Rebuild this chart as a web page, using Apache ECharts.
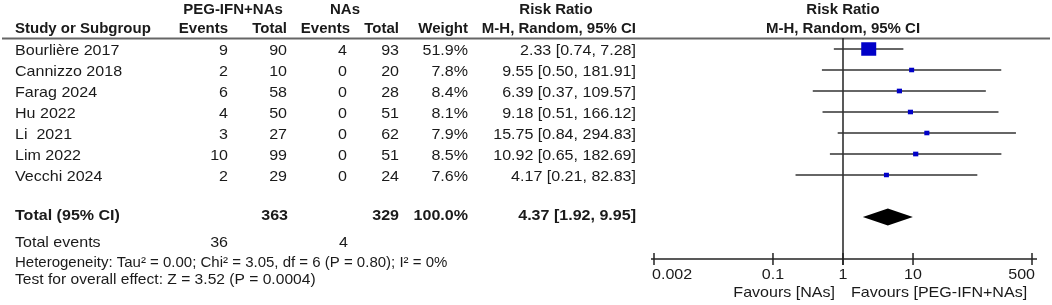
<!DOCTYPE html>
<html>
<head>
<meta charset="utf-8">
<script src="https://cdn.jsdelivr.net/npm/echarts@6/dist/echarts.min.js"></script>
<style>
  html, body { margin: 0; padding: 0; background: #fff; }
  #main { width: 1052px; height: 305px; }
</style>
</head>
<body>
<div id="main"></div>
<script>
// study data
const studies = ['Bourlière 2017', 'Cannizzo 2018', 'Farag 2024', 'Hu 2022', 'Li  2021', 'Lim 2022', 'Vecchi 2024'];
const expEvents = [9, 2, 6, 4, 3, 10, 2];
const expTotal = [90, 10, 58, 50, 27, 99, 29];
const ctrlEvents = [4, 0, 0, 0, 0, 0, 0];
const ctrlTotal = [93, 20, 28, 51, 62, 51, 24];
const weights = [51.9, 7.8, 8.4, 8.1, 7.9, 8.5, 7.6];
const rr = [2.33, 9.55, 6.39, 9.18, 15.75, 10.92, 4.17];
const lower = [0.74, 0.50, 0.37, 0.51, 0.84, 0.65, 0.21];
const upper = [7.28, 181.91, 109.57, 166.12, 294.83, 182.69, 82.83];

// pooled result
const pooled = [4.37, 1.92, 9.95]; // rr, lower, upper
const totalN = [363, 329];
const totalEvents = [36, 4];
const totalWeight = 100.0;

// axis ticks
const tickValues = [0.002, 0.1, 1, 10, 500];
const tickLabels = ['0.002', '0.1', '1', '10', '500'];

const FONT = '"Liberation Sans", Arial, Helvetica, sans-serif';
const INK = '#1a1a1a';
const TOTAL_ROW = 8;
const AXIS_ROW = 10;

// right edges of the numeric columns
const COL = { study: 15, evE: 228, totE: 287, evC: 347, totC: 399, w: 468, rr: 636 };

// text helper, sx stretches the text a little around its anchor
function txt(str, x, y, align, bold, size, sx) {
  return {
    type: 'text',
    x: x, y: y,
    scaleX: sx || 1,
    style: {
      text: String(str), x: 0, y: 0,
      align: align, verticalAlign: 'middle',
      font: (bold ? 'bold ' : '') + (size || 15) + 'px ' + FONT,
      fill: INK
    }
  };
}
const body = (str, x, y, align, bold) => txt(str, x, y, align, bold, 15, 1.07);
const head = (str, x, y, align) => txt(str, x, y, align, true, 15, 1);

const fmtCI = (a, b, c) => a.toFixed(2) + ' [' + b.toFixed(2) + ', ' + c.toFixed(2) + ']';

const chart = echarts.init(document.getElementById('main'), null, { renderer: 'canvas' });

const option = {
  animation: false,
  grid: { left: 654, right: 20, top: 7, bottom: 46 },
  xAxis: { type: 'log', logBase: 10, min: 0.002, max: 500, show: false },
  yAxis: { type: 'value', min: -2, max: AXIS_ROW, inverse: true, show: false },
  graphic: [
    { type: 'line', shape: { x1: 2, y1: 38.5, x2: 1050, y2: 38.5 }, style: { stroke: '#666', lineWidth: 2 } },
    head('PEG-IFN+NAs', 233, 10, 'center'),
    head('NAs', 345, 10, 'center'),
    head('Risk Ratio', 556, 10, 'center'),
    head('Risk Ratio', 843, 10, 'center'),
    head('Study or Subgroup', COL.study, 29, 'left'),
    head('Events', COL.evE, 29, 'right'),
    head('Total', COL.totE, 29, 'right'),
    head('Events', 350, 29, 'right'),
    head('Total', COL.totC, 29, 'right'),
    head('Weight', COL.w, 29, 'right'),
    head('M-H, Random, 95% CI', COL.rr, 29, 'right'),
    head('M-H, Random, 95% CI', 843, 29, 'center'),
    body('Total events', COL.study, 243, 'left'),
    body(totalEvents[0], COL.evE, 243, 'right'),
    body(totalEvents[1], 348, 243, 'right'),
    txt('Heterogeneity: Tau² = 0.00; Chi² = 3.05, df = 6 (P = 0.80); I² = 0%', COL.study, 263, 'left'),
    txt('Test for overall effect: Z = 3.52 (P = 0.0004)', COL.study, 280, 'left', false, 15, 1.04)
  ],
  series: [
    {
      // table rows
      type: 'custom',
      data: studies.map((s, i) => [1, i]),
      renderItem: (params, api) => {
        const i = params.dataIndex;
        const y = api.coord([1, i])[1] + 2;
        return {
          type: 'group',
          children: [
            body(studies[i], COL.study, y, 'left'),
            body(expEvents[i], COL.evE, y, 'right'),
            body(expTotal[i], COL.totE, y, 'right'),
            body(ctrlEvents[i], COL.evC, y, 'right'),
            body(ctrlTotal[i], COL.totC, y, 'right'),
            body(weights[i].toFixed(1) + '%', COL.w, y, 'right'),
            body(fmtCI(rr[i], lower[i], upper[i]), COL.rr, y, 'right')
          ]
        };
      }
    },
    {
      // total row
      type: 'custom',
      data: [[pooled[0], TOTAL_ROW]],
      renderItem: (params, api) => {
        const y = api.coord([1, TOTAL_ROW])[1] - 1;
        return {
          type: 'group',
          children: [
            body('Total (95% CI)', COL.study, y, 'left', true),
            body(totalN[0], 288, y, 'right', true),
            body(totalN[1], COL.totC, y, 'right', true),
            body(totalWeight.toFixed(1) + '%', COL.w, y, 'right', true),
            body(fmtCI(pooled[0], pooled[1], pooled[2]), COL.rr, y, 'right', true)
          ]
        };
      }
    },
    {
      // reference line at 1
      type: 'custom',
      data: [[1, 0]],
      z: 1,
      renderItem: (params, api) => {
        const x = api.coord([1, 0])[0];
        const yb = api.coord([1, AXIS_ROW])[1];
        return { type: 'line', shape: { x1: x, y1: 38, x2: x, y2: yb + 6 }, style: { stroke: '#222', lineWidth: 1.5 } };
      }
    },
    {
      // study CIs and squares
      type: 'custom',
      z: 3,
      data: studies.map((s, i) => [rr[i], i, lower[i], upper[i], weights[i]]),
      renderItem: (params, api) => {
        const c = api.coord([api.value(0), api.value(1)]);
        const lo = api.coord([api.value(2), api.value(1)]);
        const hi = api.coord([api.value(3), api.value(1)]);
        const w = api.value(4);
        const side = 5 + (w - 7.6) / (51.9 - 7.6) * 10;
        return {
          type: 'group',
          children: [
            { type: 'line', shape: { x1: lo[0], y1: c[1], x2: hi[0], y2: c[1] }, style: { stroke: '#333', lineWidth: 1.5 } },
            { type: 'rect', shape: { x: c[0] - side / 2, y: c[1] - side * 0.45, width: side, height: side * 0.9 }, style: { fill: '#0000c8' } }
          ]
        };
      }
    },
    {
      // pooled diamond
      type: 'custom',
      z: 3,
      data: [[pooled[0], TOTAL_ROW, pooled[1], pooled[2]]],
      renderItem: (params, api) => {
        const c = api.coord([api.value(0), api.value(1)]);
        const lo = api.coord([api.value(2), api.value(1)]);
        const hi = api.coord([api.value(3), api.value(1)]);
        const h = 8.5;
        return {
          type: 'polygon',
          shape: { points: [[lo[0], c[1]], [c[0], c[1] - h], [hi[0], c[1]], [c[0], c[1] + h]] },
          style: { fill: '#000' }
        };
      }
    },
    {
      // x axis line, ticks and labels
      type: 'custom',
      data: tickValues.map(v => [v, AXIS_ROW]),
      renderItem: (params, api) => {
        const i = params.dataIndex;
        const p = api.coord([api.value(0), AXIS_ROW]);
        const last = tickValues.length - 1;
        const children = [
          { type: 'line', shape: { x1: p[0], y1: p[1] - 6, x2: p[0], y2: p[1] + 6 }, style: { stroke: '#222', lineWidth: 1.5 } }
        ];
        let align = 'center', lx = p[0];
        if (i === 0) { align = 'left'; lx = p[0] - 2; }
        if (i === last) { align = 'right'; lx = p[0] + 3; }
        children.push(body(tickLabels[i], lx, p[1] + 16, align));
        if (i === 0) {
          const a = api.coord([tickValues[0], AXIS_ROW]);
          const b = api.coord([tickValues[last], AXIS_ROW]);
          children.push({ type: 'line', shape: { x1: a[0] - 3, y1: p[1], x2: b[0] + 5, y2: p[1] }, style: { stroke: '#222', lineWidth: 1.5 } });
          const one = api.coord([1, AXIS_ROW]);
          children.push(body('Favours [NAs]', one[0] - 8, p[1] + 34, 'right'));
          children.push(body('Favours [PEG-IFN+NAs]', one[0] + 8, p[1] + 34, 'left'));
        }
        return { type: 'group', children: children };
      }
    }
  ]
};

chart.setOption(option);
</script>
</body>
</html>
